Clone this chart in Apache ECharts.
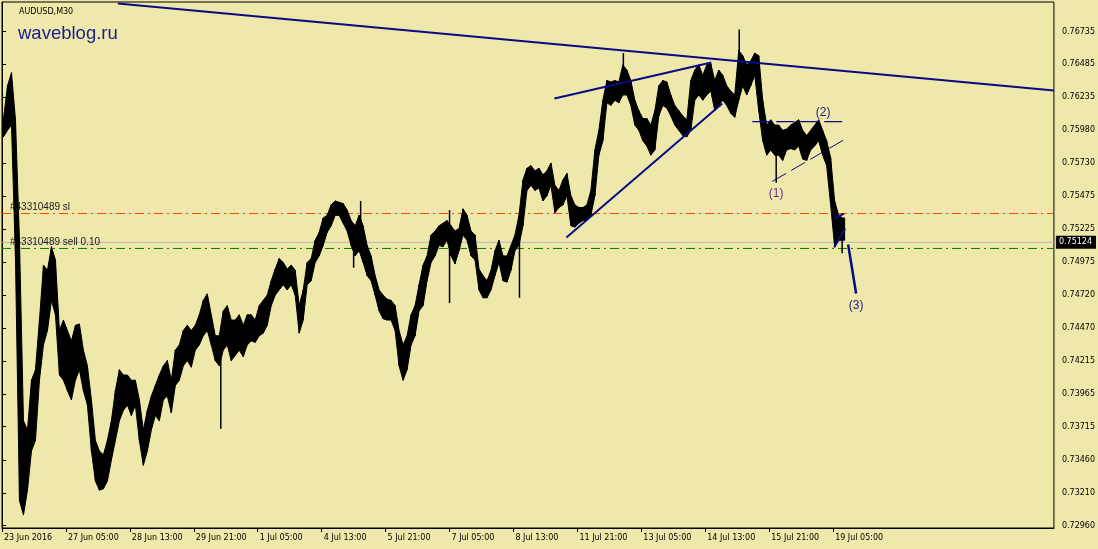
<!DOCTYPE html>
<html>
<head>
<meta charset="utf-8">
<script src="https://cdn.jsdelivr.net/npm/echarts/dist/echarts.min.js"></script>
<style>
html,body{margin:0;padding:0;background:#EEE8AA;}
#chart{width:1098px;height:549px;}
</style>
</head>
<body>
<div id="chart"></div>
<script>
// ---- DATA ----
const symbolTitle = 'AUDUSD,M30';
const siteTitle = 'waveblog.ru';
// x ticks (bar index, M30 bars) and labels
const xTickBars = [0, 64, 128, 192, 256, 320, 384, 448, 512, 576, 640, 704, 768, 832];
const xTickLabels = ['23 Jun 2016','27 Jun 05:00','28 Jun 13:00','29 Jun 21:00','1 Jul 05:00','4 Jul 13:00','5 Jul 21:00','7 Jul 05:00','8 Jul 13:00','11 Jul 21:00','13 Jul 05:00','14 Jul 13:00','15 Jul 21:00','19 Jul 05:00'];
// price scale labels
const yTickLabels = ['0.76735','0.76485','0.76235','0.75980','0.75730','0.75475','0.75225','0.74975','0.74720','0.74470','0.74215','0.73965','0.73715','0.73460','0.73210','0.72960'];
const priceMin = 0.729409, priceMax = 0.769604;
const barFirst = 0, barLast = 1053;
const barsPerChunk = 4;
// high / low of each group of 4 M30 bars
const chunkHigh = [
0.7607,0.7632,0.7642,0.7606,0.7514,0.7376,0.7369,0.7407,0.7415,0.7453,
0.7495,0.7491,0.7509,0.7499,0.7445,0.7453,0.7445,0.7437,0.7449,0.7450,
0.7430,0.7418,0.7392,0.7361,0.7353,0.7350,0.7361,0.7376,0.7399,0.7415,
0.7411,0.7411,0.7407,0.7407,0.7392,0.7369,0.7384,0.7395,0.7403,0.7411,
0.7418,0.7422,0.7407,0.7430,0.7434,0.7445,0.7449,0.7445,0.7449,0.7457,
0.7468,0.7473,0.7457,0.7441,0.7441,0.7460,0.7464,0.7453,0.7453,0.7457,
0.7449,0.7457,0.7457,0.7453,0.7464,0.7468,0.7472,0.7483,0.7492,0.7500,
0.7497,0.7492,0.7495,0.7491,0.7464,0.7476,0.7497,0.7500,0.7514,0.7520,
0.7531,0.7533,0.7541,0.7544,0.7543,0.7542,0.7537,0.7529,0.7525,0.7533,
0.7525,0.7510,0.7502,0.7487,0.7476,0.7472,0.7469,0.7468,0.7464,0.7445,
0.7434,0.7441,0.7457,0.7464,0.7480,0.7495,0.7502,0.7518,0.7521,0.7525,
0.7527,0.7529,0.7525,0.7521,0.7523,0.7538,0.7533,0.7521,0.7518,0.7492,
0.7487,0.7483,0.7491,0.7506,0.7514,0.7502,0.7502,0.7510,0.7518,0.7533,
0.7560,0.7569,0.7571,0.7567,0.7569,0.7564,0.7567,0.7573,0.7556,0.7552,
0.7560,0.7565,0.7548,0.7541,0.7539,0.7539,0.7541,0.7552,0.7583,0.7598,
0.7621,0.7636,0.7635,0.7636,0.7635,0.7648,0.7644,0.7636,0.7621,0.7613,
0.7607,0.7607,0.7602,0.7613,0.7632,0.7636,0.7635,0.7625,0.7617,0.7613,
0.7609,0.7606,0.7636,0.7644,0.7648,0.7640,0.7648,0.7649,0.7636,0.7644,
0.7640,0.7632,0.7628,0.7625,0.7659,0.7655,0.7648,0.7651,0.7657,0.7655,
0.7621,0.7602,0.7606,0.7602,0.7602,0.7598,0.7599,0.7602,0.7604,0.7606,
0.7598,0.7594,0.7598,0.7602,0.7606,0.7598,0.7590,0.7577,0.7544,0.7533,
0.7531];
const chunkLow = [
0.7593,0.7598,0.7602,0.7499,0.7315,0.7304,0.7323,0.7353,0.7361,0.7407,
0.7434,0.7445,0.7468,0.7457,0.7411,0.7407,0.7399,0.7392,0.7407,0.7415,
0.7399,0.7388,0.7353,0.7330,0.7323,0.7324,0.7330,0.7346,0.7361,0.7376,
0.7384,0.7388,0.7380,0.7388,0.7361,0.7342,0.7353,0.7369,0.7380,0.7376,
0.7392,0.7395,0.7382,0.7403,0.7407,0.7418,0.7422,0.7417,0.7430,0.7434,
0.7441,0.7445,0.7434,0.7422,0.7418,0.7430,0.7434,0.7422,0.7426,0.7430,
0.7425,0.7434,0.7437,0.7436,0.7441,0.7443,0.7449,0.7464,0.7472,0.7476,
0.7480,0.7476,0.7480,0.7472,0.7443,0.7453,0.7480,0.7483,0.7497,0.7502,
0.7510,0.7520,0.7525,0.7533,0.7533,0.7527,0.7521,0.7510,0.7502,0.7506,
0.7497,0.7487,0.7483,0.7472,0.7460,0.7454,0.7453,0.7453,0.7445,0.7418,
0.7407,0.7415,0.7434,0.7441,0.7460,0.7464,0.7483,0.7497,0.7502,0.7510,
0.7509,0.7514,0.7502,0.7496,0.7506,0.7518,0.7514,0.7502,0.7499,0.7476,
0.7470,0.7470,0.7476,0.7487,0.7497,0.7483,0.7482,0.7491,0.7506,0.7510,
0.7525,0.7552,0.7556,0.7552,0.7554,0.7544,0.7548,0.7556,0.7535,0.7539,
0.7541,0.7548,0.7525,0.7524,0.7527,0.7529,0.7529,0.7533,0.7548,0.7579,
0.7590,0.7619,0.7617,0.7621,0.7619,0.7625,0.7625,0.7617,0.7602,0.7598,
0.7590,0.7586,0.7579,0.7583,0.7609,0.7617,0.7615,0.7609,0.7602,0.7598,
0.7594,0.7593,0.7598,0.7621,0.7625,0.7621,0.7625,0.7628,0.7613,0.7617,
0.7621,0.7617,0.7611,0.7608,0.7621,0.7632,0.7625,0.7632,0.7640,0.7613,
0.7590,0.7579,0.7583,0.7579,0.7579,0.7575,0.7583,0.7584,0.7583,0.7586,
0.7576,0.7575,0.7583,0.7586,0.7590,0.7579,0.7571,0.7541,0.7509,0.7514,
0.7514];
// single bars with long shadows
const spikeBars  = [219, 352, 359, 448, 518, 622, 738, 775, 841];
const spikeHighs = [0.7441, 0.7525, 0.7544, 0.7537, 0.7514, 0.7657, 0.7675, 0.7598, 0.7525];
const spikeLows  = [0.7370, 0.7493, 0.7514, 0.7466, 0.7470, 0.7628, 0.7636, 0.7558, 0.7504];
// order levels
const slPrice = 0.75344, sellPrice = 0.75077, bidPrice = 0.75124;
const slLabel = '#43310489 sl', sellLabel = '#43310489 sell 0.10';
// drawn objects: [bar, price] end points
const trendLong   = [[116, 0.76949], [1053, 0.76284]];
const trendUpper  = [[553, 0.76223], [710, 0.76498]];
const trendLower  = [[565, 0.75161], [721, 0.76185]];
const levelDash   = [[751, 0.76047], [841, 0.76047]];
const channelDash = [[771, 0.75589], [845, 0.75917]];
const smallA      = [[833, 0.75306], [843, 0.75344]];
const smallB      = [[833, 0.75084], [844, 0.75230]];
const projection  = [[847, 0.75107], [855, 0.74733]];
const waveLabels  = ['(1)', '(2)', '(3)'];
const wavePoints  = [[775, 0.75497], [822, 0.76116], [855, 0.74641]];
const waveColors  = ['#6b2d8c', '#23237e', '#23237e'];

// ---- CHART ----
const navy = '#0a0a86';
const chart = echarts.init(document.getElementById('chart'), null, {renderer: 'canvas'});
const fontAx = 'DejaVu Sans';

function lineSeries(data, color, width, type, z) {
  return {type: 'line', data: data, symbol: 'none', silent: true, z: z || 5,
    lineStyle: {color: color, width: width, type: type || 'solid', opacity: 1}, animation: false};
}
function textSeries(points, texts, labelOpt, z, colors) {
  return {type: 'scatter', z: z || 6, silent: true, symbolSize: 0, clip: false,
    itemStyle: {opacity: 1},
    data: points.map((p, i) => colors ? ({value: p, label: {color: colors[i]}}) : ({value: p})),
    label: Object.assign({show: true, formatter: (p) => texts[p.dataIndex],
      textBorderWidth: 0, textShadowBlur: 0, opacity: 1}, labelOpt)};
}

const bandData = chunkHigh.map((h, k) => [k * barsPerChunk + 1.5, h, chunkLow[k]]);
const spikeData = spikeBars.map((b, i) => [b, spikeHighs[i], spikeLows[i]]);

const series = [
  // order level lines (below price bars)
  lineSeries([[barFirst, slPrice], [barLast, slPrice]], '#ff4500', 1, [9, 4, 2, 4], 1),
  lineSeries([[barFirst, bidPrice], [barLast, bidPrice]], '#b8b8b8', 1, 'solid', 1),
  lineSeries([[barFirst, sellPrice], [barLast, sellPrice]], '#008000', 1, [9, 4, 2, 4], 1),
  textSeries([[3, slPrice], [3, sellPrice]], [slLabel, sellLabel],
    {position: 'right', distance: 5, offset: [0, -6], color: '#1a1a1a',
     fontFamily: 'Liberation Sans', fontSize: 10}, 2),
  {
    type: 'custom', z: 3, silent: true, data: bandData,
    encode: {x: 0, y: [1, 2]},
    renderItem: function (params, api) {
      const k = params.dataIndex;
      const x0 = api.value(0);
      const a = api.coord([x0, chunkHigh[k]]);
      const d = api.coord([x0, chunkLow[k]]);
      let b, c;
      if (k < chunkHigh.length - 1) {
        b = api.coord([x0 + barsPerChunk, chunkHigh[k + 1]]);
        c = api.coord([x0 + barsPerChunk, chunkLow[k + 1]]);
      } else {
        b = api.coord([x0 + 2, chunkHigh[k]]);
        c = api.coord([x0 + 2, chunkLow[k]]);
      }
      return {type: 'polygon', shape: {points: [a, b, c, d]},
        style: {fill: '#000', stroke: '#000', lineWidth: 1}};
    }
  },
  {
    type: 'custom', z: 3, silent: true, data: spikeData,
    encode: {x: 0, y: [1, 2]},
    renderItem: function (params, api) {
      const p1 = api.coord([api.value(0), api.value(1)]);
      const p2 = api.coord([api.value(0), api.value(2)]);
      return {type: 'line', shape: {x1: p1[0], y1: p1[1], x2: p2[0], y2: p2[1]},
        style: {stroke: '#000', lineWidth: 1.5}};
    }
  },
  lineSeries(trendLong, navy, 2),
  lineSeries(trendUpper, navy, 2),
  lineSeries(trendLower, navy, 2),
  lineSeries(levelDash, navy, 1.2, [18, 6]),
  lineSeries(channelDash, navy, 1, [16, 6]),
  lineSeries(smallA, navy, 2),
  lineSeries(smallB, navy, 2),
  lineSeries(projection, navy, 2.5),
  textSeries(wavePoints, waveLabels,
    {position: 'inside', fontFamily: 'Liberation Sans', fontSize: 12}, 6, waveColors),
  // bid price box on the price scale
  textSeries([[barLast, bidPrice]], [bidPrice.toFixed(5)],
    {position: 'right', distance: 2, color: '#fff', backgroundColor: '#000',
     padding: [3, 4, 2, 3], fontFamily: fontAx, fontSize: 8}, 7)
];

const option = {
  animation: false,
  backgroundColor: '#EEE8AA',
  grid: {left: 2, right: 43, top: 2, bottom: 21, show: true, borderColor: '#000', borderWidth: 1,
    backgroundColor: 'transparent'},
  xAxis: {
    type: 'value', min: barFirst, max: barLast,
    axisLine: {show: true, onZero: false, lineStyle: {color: '#000', width: 1}},
    axisTick: {show: true, customValues: xTickBars, length: 4, lineStyle: {color: '#000'}},
    axisLabel: {customValues: xTickBars, align: 'left', margin: 6, padding: [0, 0, 0, 2],
      color: '#000', fontFamily: fontAx, fontSize: 8,
      formatter: (v) => { const i = xTickBars.indexOf(Math.round(v)); return i >= 0 ? xTickLabels[i] : ''; }},
    splitLine: {show: false}
  },
  yAxis: {
    type: 'value', position: 'right', min: priceMin, max: priceMax, scale: true,
    axisLine: {show: true, lineStyle: {color: '#000', width: 1}},
    axisTick: {show: true, customValues: yTickLabels.map(Number), length: 4, lineStyle: {color: '#000'}},
    axisLabel: {customValues: yTickLabels.map(Number), margin: 8, color: '#000',
      fontFamily: fontAx, fontSize: 8,
      formatter: (v) => { const i = yTickLabels.findIndex(s => Math.abs(Number(s) - v) < 1e-7); return i >= 0 ? yTickLabels[i] : ''; }},
    splitLine: {show: false}
  },
  graphic: [
    {type: 'text', left: 19, top: 8, silent: true,
      style: {text: symbolTitle, fill: '#000', font: '8px "DejaVu Sans"'}},
    {type: 'text', left: 18, top: 24, silent: true,
      style: {text: siteTitle, fill: '#1c1c8e', font: '18.5px "Liberation Sans"',
        textShadowColor: 'rgba(150,150,185,0.8)', textShadowOffsetX: 2, textShadowOffsetY: 2, textShadowBlur: 0}}
  ],
  series: series
};
chart.setOption(option);
</script>
</body>
</html>
